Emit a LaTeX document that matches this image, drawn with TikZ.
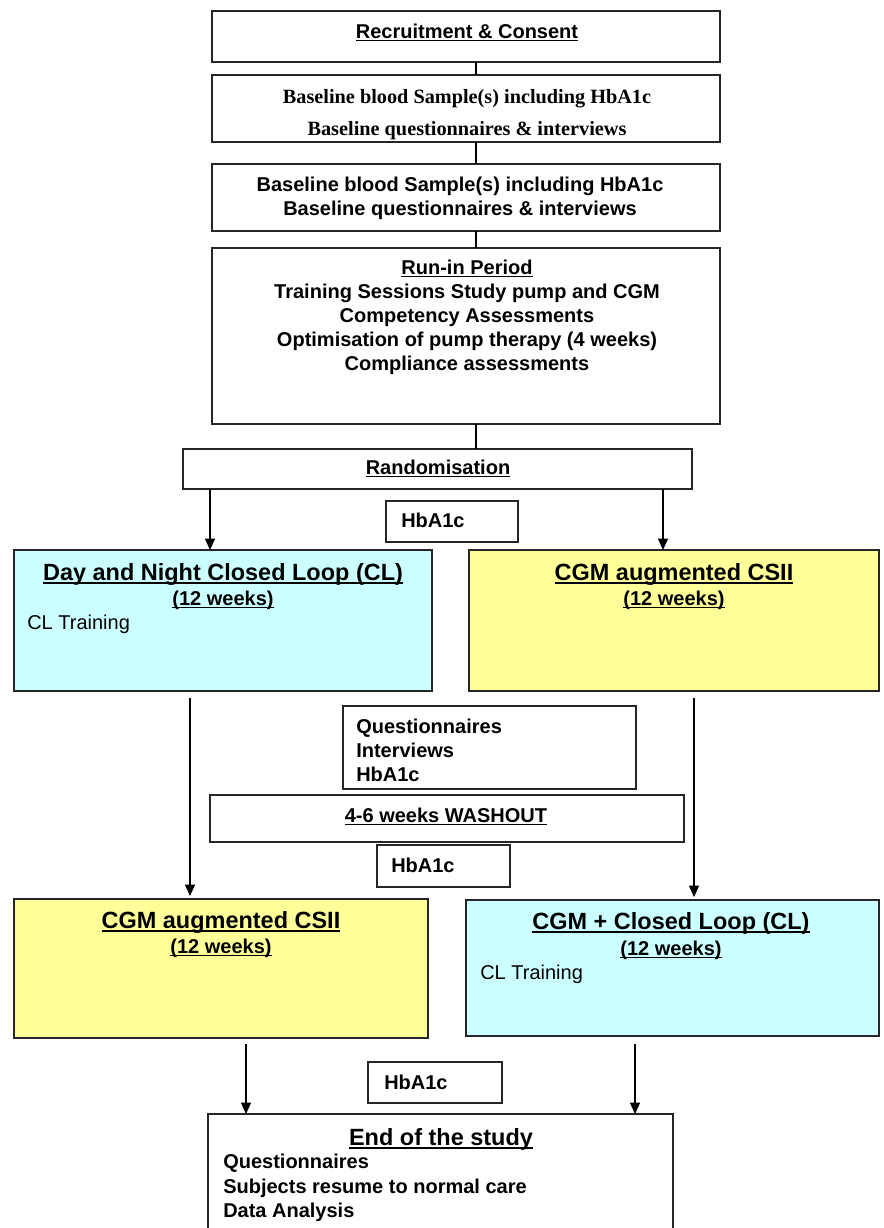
\documentclass[tikz,border=0pt]{standalone}
\usepackage{fontspec}
\setmainfont{Liberation Sans}
\newfontfamily\tmsfont{Liberation Serif}
\usetikzlibrary{arrows.meta,fit,calc}
\definecolor{clfill}{HTML}{CCFFFF}
\definecolor{csfill}{HTML}{FFFF99}
\newsavebox\ulbox
\newcommand\ulx[1]{\sbox\ulbox{#1}\rlap{\rule[-0.17em]{\wd\ulbox}{0.07em}}\usebox\ulbox}
\begin{document}
\begin{tikzpicture}[x=0.75pt,y=-0.75pt,
  box/.style={draw=black!85,line width=1pt,inner sep=0pt,outer sep=0pt},
  tb/.style={inner sep=0pt,anchor=base,font=\fontsize{15}{18}\selectfont\bfseries},
  tl/.style={inner sep=0pt,anchor=base west,font=\fontsize{15}{18}\selectfont\bfseries},
  tr/.style={inner sep=0pt,anchor=base west,font=\fontsize{15}{18}\selectfont},
  tt/.style={inner sep=0pt,anchor=base,font=\fontsize{17.6}{21}\selectfont\bfseries},
  tms/.style={inner sep=0pt,anchor=base,font=\fontsize{15.2}{18}\selectfont\tmsfont\bfseries},
  conn/.style={line width=0.9pt,black},
  arr/.style={conn,-{Triangle[length=8.5pt,width=7.5pt]}}]
\useasboundingbox[fill=white] (0,0) rectangle (884,1228);
\clip (0,0) rectangle (884,1228);

% spine and arrow columns
\coordinate (xs) at (476,0);
\coordinate (xa) at (210,0);
\coordinate (xb) at (663,0);
\coordinate (xc) at (190,0);
\coordinate (xd) at (694,0);
\coordinate (xe) at (246,0);
\coordinate (xf) at (635,0);

% top chain
\node[box,fit={(212,11)(720,62)}] (rec) {};
\node[tb] (recT) at (467,38) {\ulx{Recruitment \& Consent}};

\node[box,fit={(212,75)(720,142)}] (bl1) {};
\node[tms] (bl1a) at (467,103) {Baseline blood Sample(s) including HbA1c};
\node[tms] (bl1b) at (467,135) {Baseline questionnaires \& interviews};

\node[box,fit={(212,164)(720,231)}] (bl2) {};
\node[tb] (bl2a) at (460,191) {Baseline blood Sample(s) including HbA1c};
\node[tb] (bl2b) at (460,215) {Baseline questionnaires \& interviews};

\node[box,fit={(212,248)(720,424)}] (run) {};
\node[tb] (runa) at (467,274) {\ulx{Run-in Period}};
\node[tb] (runb) at (467,298) {Training Sessions Study pump and CGM};
\node[tb] (runc) at (467,322) {Competency Assessments};
\node[tb] (rund) at (467,346) {Optimisation of pump therapy (4 weeks)};
\node[tb] (rune) at (467,370) {Compliance assessments};

\node[box,fit={(183,449)(692,489)}] (rand) {};
\node[tb] (randT) at (438,474) {\ulx{Randomisation}};

\node[box,fit={(386,501)(518,542)}] (h1) {};
\node[tl] (h1T) at (401,527) {HbA1c};

% first period
\node[box,fill=clfill,fit={(14,550)(432,691)}] (cl1) {};
\node[tt] (cl1a) at (223,580) {\ulx{Day and Night Closed Loop (CL)}};
\node[tb] (cl1b) at (223,605) {\ulx{(12 weeks)}};
\node[tr] (cl1c) at (27,629) {CL Training};

\node[box,fill=csfill,fit={(469,550)(879,691)}] (cs1) {};
\node[tt] (cs1a) at (674,580) {\ulx{CGM augmented CSII}};
\node[tb] (cs1b) at (674,605) {\ulx{(12 weeks)}};

% washout
\node[box,fit={(343,706)(636,789)}] (qi) {};
\node[tl] (qia) at (356,733) {Questionnaires};
\node[tl] (qib) at (356,757) {Interviews};
\node[tl] (qic) at (356,781) {HbA1c};

\node[box,fit={(210,795)(684,842)}] (wash) {};
\node[tb] (washT) at (446,822) {\ulx{4-6 weeks WASHOUT}};

\node[box,fit={(377,845)(510,887)}] (h2) {};
\node[tl] (h2T) at (391,872) {HbA1c};

% second period
\node[box,fill=csfill,fit={(14,899)(428,1038)}] (cs2) {};
\node[tt] (cs2a) at (221,928) {\ulx{CGM augmented CSII}};
\node[tb] (cs2b) at (221,953) {\ulx{(12 weeks)}};

\node[box,fill=clfill,fit={(466,900)(879,1036)}] (cl2) {};
\node[tt] (cl2a) at (671,929) {\ulx{CGM + Closed Loop (CL)}};
\node[tb] (cl2b) at (671,955) {\ulx{(12 weeks)}};
\node[tr] (cl2c) at (480,979) {CL Training};

\node[box,fit={(368,1062)(502,1103)}] (h3) {};
\node[tl] (h3T) at (384,1089) {HbA1c};

% end
\node[box,fit={(208,1114)(673,1240)}] (endb) {};
\node[tt] (enda) at (441,1145) {\ulx{End of the study}};
\node[tl] (endb1) at (223,1168) {Questionnaires};
\node[tl] (endb2) at (223,1193) {Subjects resume to normal care};
\node[tl] (endb3) at (223,1217) {Data Analysis};

% connectors
\draw[conn] (rec.south -| xs) -- (bl1.north -| xs);
\draw[conn] (bl1.south -| xs) -- (bl2.north -| xs);
\draw[conn] (bl2.south -| xs) -- (run.north -| xs);
\draw[conn] (run.south -| xs) -- (rand.north -| xs);
\draw[arr] (rand.south -| xa) -- (cl1.north -| xa);
\draw[arr] (rand.south -| xb) -- (cs1.north -| xb);
\draw[arr] ($(cl1.south -| xc)+(0,7)$) -- ($(cs2.north -| xc)+(0,-3)$);
\draw[arr] ($(cs1.south -| xd)+(0,7)$) -- ($(cl2.north -| xd)+(0,-3)$);
\draw[arr] ($(cs2.south -| xe)+(0,6)$) -- (endb.north -| xe);
\draw[arr] ($(cl2.south -| xf)+(0,8)$) -- (endb.north -| xf);
\end{tikzpicture}
\end{document}
